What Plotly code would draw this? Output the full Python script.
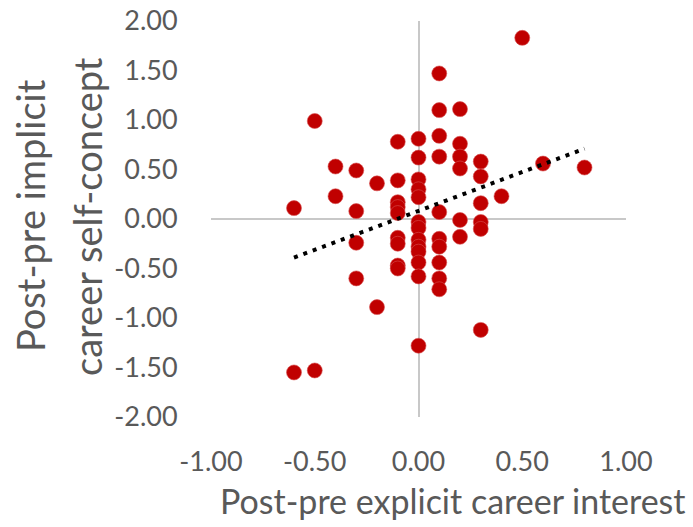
import plotly.graph_objects as go

# Data
x_vals = (
    [-0.6, -0.6]
    + [-0.5, -0.5]
    + [-0.4, -0.4]
    + [-0.3] * 4
    + [-0.2] * 2
    + [-0.1] * 9
    + [0.0] * 13
    + [0.1] * 10
    + [0.2] * 6
    + [0.3] * 6
    + [0.4, 0.5, 0.6, 0.8]
)
y_vals = (
    [0.11, -1.55]
    + [0.99, -1.53]
    + [0.53, 0.23]
    + [0.49, 0.08, -0.24, -0.60]
    + [0.36, -0.89]
    + [0.78, 0.39, 0.17, 0.12, 0.06, -0.19, -0.25, -0.47, -0.50]
    + [0.81, 0.62, 0.40, 0.30, 0.22, -0.03, -0.09, -0.21, -0.28, -0.33, -0.44, -0.58, -1.28]
    + [1.47, 1.10, 0.84, 0.63, 0.07, -0.20, -0.28, -0.44, -0.60, -0.71]
    + [1.11, 0.76, 0.63, 0.51, -0.01, -0.18]
    + [0.58, 0.43, 0.16, -0.03, -0.10, -1.12]
    + [0.23, 1.83, 0.56, 0.52]
)
trend_x = [-0.6, 0.8]
trend_y = [-0.39, 0.71]
tick_vals_x = [-1.0, -0.5, 0.0, 0.5, 1.0]
tick_text_x = ["-1.00", "-0.50", "0.00", "0.50", "1.00"]
tick_vals_y = [-2.0, -1.5, -1.0, -0.5, 0.0, 0.5, 1.0, 1.5, 2.0]
tick_text_y = ["-2.00", "-1.50", "-1.00", "-0.50", "0.00", "0.50", "1.00", "1.50", "2.00"]
x_title = "Post-pre explicit career interest"
y_title_lines = ["Post-pre implicit", "career self-concept"]

FONT = "Lato"
GRAY = "#595959"

W, H = 693, 527
L, T = 211, 21
PR, PB = 626, 417
R, B = W - PR, H - PB
PW = PR - L
PH = PB - T


def px_x(p):
    return (p - L) / PW


def px_y(p):
    return (PB - p) / PH


fig = go.Figure()
fig.add_trace(go.Scatter(
    x=x_vals, y=y_vals, mode="markers",
    marker=dict(size=15, color="#C00000", line=dict(width=0.6, color="#D65050")),
    showlegend=False, hoverinfo="x+y",
))
fig.add_trace(go.Scatter(
    x=trend_x, y=trend_y, mode="lines",
    line=dict(color="black", width=4, dash="4px,6px"),
    showlegend=False, hoverinfo="skip",
))

fig.update_layout(
    width=W, height=H,
    margin=dict(l=L, r=R, t=T, b=B, autoexpand=False),
    paper_bgcolor="white", plot_bgcolor="white",
    font=dict(family=FONT, color=GRAY),
    xaxis=dict(
        range=[-1, 1], tickvals=tick_vals_x, ticktext=tick_text_x,
        showgrid=False, showline=False, zeroline=True,
        zerolinecolor="#C8C8C8", zerolinewidth=2,
        ticks="outside", ticklen=21, tickcolor="rgba(0,0,0,0)",
        tickfont=dict(size=27, family=FONT, color=GRAY),
        ticklabeloverflow="allow",
        fixedrange=True,
    ),
    yaxis=dict(
        range=[-2, 2], tickvals=tick_vals_y, ticktext=tick_text_y,
        showgrid=False, showline=False, zeroline=True,
        zerolinecolor="#C8C8C8", zerolinewidth=2,
        ticks="outside", ticklen=27, tickcolor="rgba(0,0,0,0)",
        tickfont=dict(size=27, family=FONT, color=GRAY),
        ticklabeloverflow="allow",
        fixedrange=True,
    ),
    annotations=[
        dict(text=x_title, xref="paper", yref="paper",
             x=px_x(218), y=px_y(500),
             xanchor="left", yanchor="middle", showarrow=False,
             font=dict(size=34, family=FONT, color=GRAY)),
        dict(text=y_title_lines[0], xref="paper", yref="paper",
             x=px_x(30), y=px_y(216), xanchor="center", yanchor="middle",
             textangle=-90, showarrow=False,
             font=dict(size=38, family=FONT, color=GRAY)),
        dict(text=y_title_lines[1], xref="paper", yref="paper",
             x=px_x(87), y=px_y(217), xanchor="center", yanchor="middle",
             textangle=-90, showarrow=False,
             font=dict(size=38, family=FONT, color=GRAY)),
    ],
)

fig.write_html(
    "out.html",
    config={"displayModeBar": False},
    post_script="document.body.style.margin='0';document.body.style.overflow='hidden';",
)
